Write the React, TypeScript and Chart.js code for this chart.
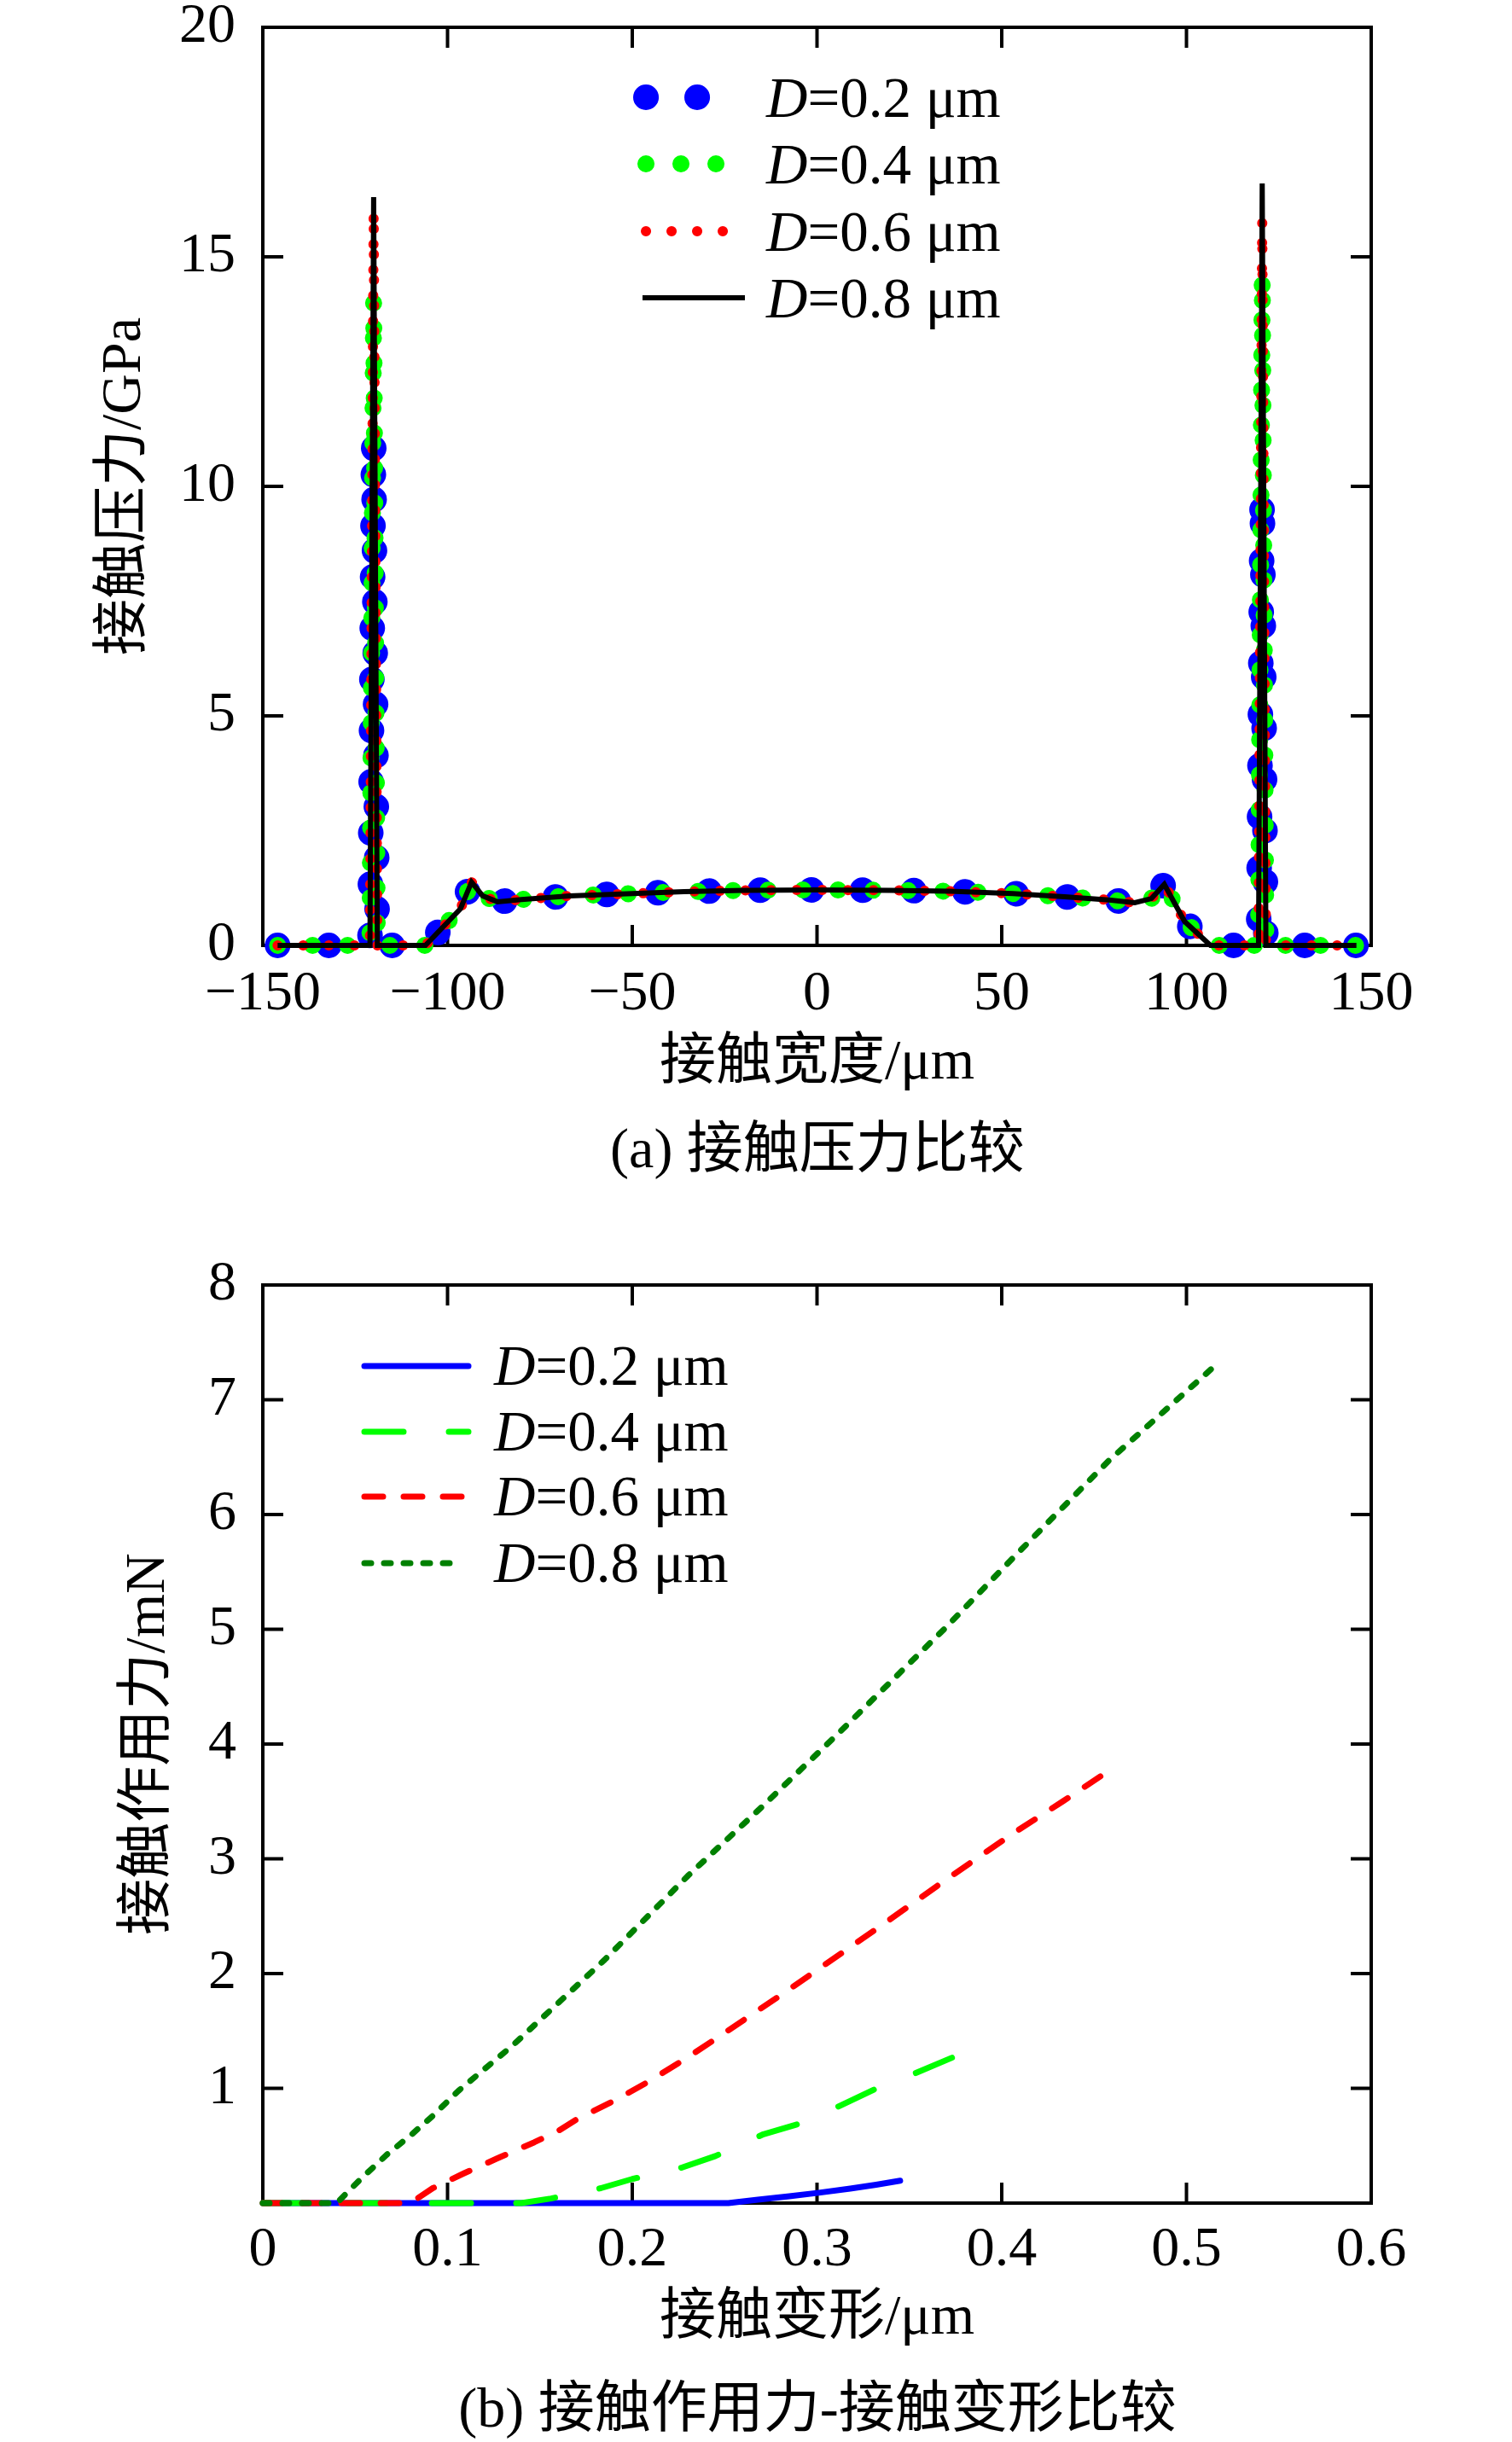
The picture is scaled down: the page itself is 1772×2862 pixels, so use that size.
import React, { useEffect, useRef } from 'react';
import { Chart, registerables } from 'chart.js';

Chart.register(...registerables);

const SERIF = "'Liberation Serif', 'Times New Roman', 'Noto Sans CJK SC', serif";

// ---- (a) contact pressure vs contact width ----
const pressureX = [-146, -121, -120, -119, -106, -96.5, -93.5, -90.5, -86.5, -80, -67, -53, -36, -20, 0, 20, 36, 53, 67, 79, 86, 90.5, 94, 99.5, 106.5, 119.5, 120.5, 121.5, 146];
const pressureD02 = [0, 0, 11.1, 0, 0, 0.8, 1.38, 1.08, 0.95, 1.0, 1.08, 1.12, 1.17, 1.2, 1.21, 1.2, 1.18, 1.13, 1.06, 0.99, 0.93, 1.02, 1.33, 0.52, 0, 0, 9.9, 0, 0];
const pressureD04 = [0, 0, 14.1, 0, 0, 0.8, 1.38, 1.08, 0.95, 1.0, 1.08, 1.12, 1.17, 1.2, 1.21, 1.2, 1.18, 1.13, 1.06, 0.99, 0.93, 1.02, 1.33, 0.52, 0, 0, 14.6, 0, 0];
const pressureD06 = [0, 0, 16.0, 0, 0, 0.8, 1.38, 1.08, 0.95, 1.0, 1.08, 1.12, 1.17, 1.2, 1.21, 1.2, 1.18, 1.13, 1.06, 0.99, 0.93, 1.02, 1.33, 0.52, 0, 0, 15.8, 0, 0];
const pressureD08 = [0, 0, 16.3, 0, 0, 0.8, 1.38, 1.08, 0.95, 1.0, 1.08, 1.12, 1.17, 1.2, 1.21, 1.2, 1.18, 1.13, 1.06, 0.99, 0.93, 1.02, 1.33, 0.52, 0, 0, 16.6, 0, 0];

// ---- (b) contact force vs contact deformation ----
const forceX02 = [0, 0.252, 0.268, 0.285, 0.301, 0.318, 0.332, 0.345];
const forceY02 = [0, 0, 0.03, 0.06, 0.09, 0.126, 0.16, 0.195];
const forceX04 = [0, 0.14, 0.156, 0.183, 0.2, 0.227, 0.245, 0.271, 0.29, 0.31, 0.331, 0.353, 0.375];
const forceY04 = [0, 0, 0.04, 0.13, 0.21, 0.31, 0.41, 0.6, 0.69, 0.83, 0.99, 1.13, 1.28];
const forceX06 = [0, 0.08, 0.092, 0.109, 0.127, 0.147, 0.16, 0.17, 0.19, 0.209, 0.229, 0.246, 0.282, 0.335, 0.37, 0.406, 0.433, 0.461];
const forceY06 = [0, 0, 0.13, 0.26, 0.39, 0.53, 0.63, 0.73, 0.89, 1.06, 1.26, 1.44, 1.83, 2.42, 2.82, 3.22, 3.5, 3.8];
const forceX08 = [0, 0.04, 0.053, 0.067, 0.08, 0.092, 0.106, 0.135, 0.185, 0.23, 0.27, 0.312, 0.37, 0.406, 0.458, 0.515];
const forceY08 = [0, 0, 0.21, 0.42, 0.59, 0.76, 0.98, 1.37, 2.12, 2.85, 3.45, 4.1, 5.02, 5.62, 6.47, 7.29];

const diameters = ['0.2', '0.4', '0.6', '0.8'];

const toPoints = (xs: number[], ys: number[]) => xs.map((x, i) => ({ x, y: ys[i] }));

// frame + inward ticks on all four sides
const framePlugin = {
  id: 'frame',
  beforeDatasetsDraw(chart: any) {
    const { ctx, chartArea: a, scales } = chart;
    const len = 24;
    ctx.save();
    ctx.strokeStyle = '#000';
    ctx.lineWidth = 4;
    ctx.beginPath();
    scales.x.ticks.forEach((t: any) => {
      const px = scales.x.getPixelForValue(t.value);
      if (px - a.left < 2 || a.right - px < 2) return;
      ctx.moveTo(px, a.bottom);
      ctx.lineTo(px, a.bottom - len);
      ctx.moveTo(px, a.top);
      ctx.lineTo(px, a.top + len);
    });
    scales.y.ticks.forEach((t: any) => {
      const py = scales.y.getPixelForValue(t.value);
      if (py - a.top < 2 || a.bottom - py < 2) return;
      ctx.moveTo(a.left, py);
      ctx.lineTo(a.left + len, py);
      ctx.moveTo(a.right, py);
      ctx.lineTo(a.right - len, py);
    });
    ctx.stroke();
    ctx.strokeRect(a.left, a.top, a.right - a.left, a.bottom - a.top);
    ctx.restore();
  },
};

// legend drawn inside the plot, with italic D
const legendPlugin = {
  id: 'sketchLegend',
  afterDatasetsDraw(chart: any, _args: any, opts: any) {
    const { ctx } = chart;
    chart.data.datasets.forEach((ds: any, i: number) => {
      const y = opts.rows[i];
      ctx.save();
      ctx.strokeStyle = ds.borderColor;
      ctx.lineWidth = ds.borderWidth;
      ctx.lineCap = ds.borderCapStyle;
      ctx.setLineDash(ds.borderDash || []);
      ctx.beginPath();
      ctx.moveTo(opts.start[i], y);
      ctx.lineTo(opts.end[i], y);
      ctx.stroke();
      ctx.restore();

      ctx.save();
      ctx.fillStyle = '#000';
      ctx.textBaseline = 'alphabetic';
      ctx.font = `italic 67px ${SERIF}`;
      ctx.fillText('D', opts.textX, y + opts.baseline);
      const w = ctx.measureText('D').width;
      ctx.font = `67px ${SERIF}`;
      ctx.fillText(`=${diameters[i]} μm`, opts.textX + w, y + opts.baseline);
      ctx.restore();
    });
  },
};

const tickFont = { family: SERIF, size: 66 };
const titleFont = { family: SERIF, size: 66 };

function ChartCanvas({ top, height, build }: { top: number; height: number; build: () => any }) {
  const ref = useRef<HTMLCanvasElement | null>(null);
  useEffect(() => {
    const chart = new Chart(ref.current as HTMLCanvasElement, build());
    return () => chart.destroy();
  }, []);
  return (
    <canvas
      ref={ref}
      width={1772}
      height={height}
      style={{ position: 'absolute', left: 0, top, width: 1772, height, display: 'block' }}
    />
  );
}

const buildPressure = () => {
  const sets = [
    { y: pressureD02, color: '#0000ff', width: 30, dash: [0.1, 59.9], cap: 'round', join: 'round' },
    { y: pressureD04, color: '#00ff00', width: 20, dash: [0.1, 40.9], cap: 'round', join: 'round' },
    { y: pressureD06, color: '#ff0000', width: 12, dash: [0.1, 29.9], cap: 'round', join: 'round' },
    { y: pressureD08, color: '#000000', width: 6, dash: [], cap: 'butt', join: 'miter' },
  ];
  return {
    type: 'scatter',
    data: {
      datasets: sets.map((s, i) => ({
        label: `D=${diameters[i]} μm`,
        data: toPoints(pressureX, s.y),
        showLine: true,
        borderColor: s.color,
        backgroundColor: s.color,
        borderWidth: s.width,
        borderDash: s.dash,
        borderCapStyle: s.cap,
        borderJoinStyle: s.join,
        pointRadius: 0,
        tension: 0,
        clip: false,
        order: 4 - i,
      })),
    },
    options: {
      animation: false,
      responsive: false,
      events: [],
      layout: { padding: { left: 0, top: 32, right: 165, bottom: 0 } },
      plugins: {
        legend: { display: false },
        tooltip: { enabled: false },
        sketchLegend: { textX: 898, rows: [114, 192, 271, 349], start: [757, 757, 757, 753], end: [818, 840, 848, 873], baseline: 23 },
      },
      scales: {
        x: {
          type: 'linear',
          min: -150,
          max: 150,
          grid: { display: false },
          border: { display: false },
          ticks: {
            stepSize: 50,
            autoSkip: false,
            maxRotation: 0,
            padding: 10,
            color: '#000',
            font: tickFont,
            callback: (v: number) => (v < 0 ? '\u2212' + Math.abs(v) : String(v)),
          },
          title: { display: true, text: '接触宽度/μm', color: '#000', font: titleFont, padding: { top: 0, bottom: 14 } },
          afterFit: (s: any) => {
            s.height = 192;
            s.paddingLeft = 0;
            s.paddingRight = 0;
          },
        },
        y: {
          type: 'linear',
          min: 0,
          max: 20,
          grid: { display: false },
          border: { display: false },
          ticks: { stepSize: 5, padding: 24, color: '#000', font: tickFont },
          title: { display: true, text: '接触压力/GPa', color: '#000', font: titleFont, padding: { top: 107, bottom: 0 } },
          afterFit: (s: any) => {
            s.width = 308;
            s.paddingTop = 0;
            s.paddingBottom = 0;
          },
        },
      },
    },
    plugins: [framePlugin, legendPlugin],
  };
};

const buildForce = () => {
  const sets = [
    { x: forceX02, y: forceY02, color: '#0000ff', dash: [] },
    { x: forceX04, y: forceY04, color: '#00ff00', dash: [46, 53] },
    { x: forceX06, y: forceY06, color: '#ff0000', dash: [22, 24] },
    { x: forceX08, y: forceY08, color: '#008000', dash: [8, 15] },
  ];
  return {
    type: 'scatter',
    data: {
      datasets: sets.map((s, i) => ({
        label: `D=${diameters[i]} μm`,
        data: toPoints(s.x, s.y),
        showLine: true,
        borderColor: s.color,
        backgroundColor: s.color,
        borderWidth: 7,
        borderDash: s.dash,
        borderCapStyle: 'round',
        borderJoinStyle: 'round',
        pointRadius: 0,
        tension: 0,
        clip: false,
        order: 4 - i,
      })),
    },
    options: {
      animation: false,
      responsive: false,
      events: [],
      layout: { padding: { left: 0, top: 86, right: 165, bottom: 0 } },
      plugins: {
        legend: { display: false },
        tooltip: { enabled: false },
        sketchLegend: { textX: 579, rows: [181, 258, 334, 412], start: [427, 427, 427, 427], end: [549, 549, 549, 527], baseline: 22 },
      },
      scales: {
        x: {
          type: 'linear',
          min: 0,
          max: 0.6,
          grid: { display: false },
          border: { display: false },
          ticks: {
            stepSize: 0.1,
            autoSkip: false,
            maxRotation: 0,
            padding: 8,
            color: '#000',
            font: tickFont,
            callback: (v: number) => (v === 0 ? '0' : Number(v).toFixed(1)),
          },
          title: { display: true, text: '接触变形/μm', color: '#000', font: titleFont, padding: { top: 0, bottom: 3 } },
          afterFit: (s: any) => {
            s.height = 178;
            s.paddingLeft = 0;
            s.paddingRight = 0;
          },
        },
        y: {
          type: 'linear',
          min: 0,
          max: 8,
          grid: { display: false },
          border: { display: false },
          ticks: {
            stepSize: 1,
            padding: 23,
            color: '#000',
            font: tickFont,
            callback: (v: number) => (v === 0 ? '' : String(v)),
          },
          title: { display: true, text: '接触作用力/mN', color: '#000', font: titleFont, padding: { top: 135, bottom: 0 } },
          afterFit: (s: any) => {
            s.width = 308;
            s.paddingTop = 0;
            s.paddingBottom = 0;
          },
        },
      },
    },
    plugins: [framePlugin, legendPlugin],
  };
};

const captionStyle = (centerY: number): React.CSSProperties => ({
  position: 'absolute',
  left: 958,
  top: centerY - 33,
  transform: 'translateX(-50%)',
  fontFamily: SERIF,
  fontSize: 66,
  lineHeight: '66px',
  whiteSpace: 'nowrap',
  color: '#000',
});

export default function App() {
  return (
    <div style={{ position: 'absolute', left: 0, top: 0, width: 1772, height: 2862, background: '#fff', overflow: 'hidden' }}>
      <ChartCanvas top={0} height={1300} build={buildPressure} />
      <div style={captionStyle(1346)}>(a) 接触压力比较</div>
      <ChartCanvas top={1420} height={1340} build={buildForce} />
      <div style={captionStyle(2822)}>(b) 接触作用力-接触变形比较</div>
    </div>
  );
}
